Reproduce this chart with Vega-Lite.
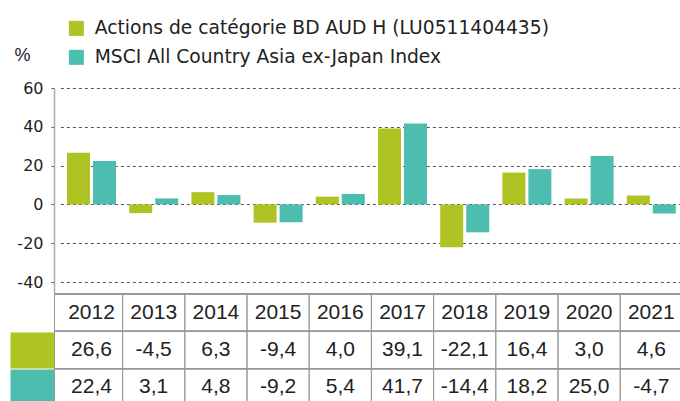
{
  "$schema": "https://vega.github.io/schema/vega-lite/v6.json",
  "padding": {"left": -8, "top": 19, "right": 0, "bottom": 0},
  "config": {
    "view": {"stroke": null},
    "font": "Liberation Sans",
    "locale": {"number": {"decimal": ",", "thousands": " ", "grouping": [3], "currency": ["", " €"], "minus": "-"}},
    "concat": {"spacing": 0}
  },
  "datasets": {
    "perf": [
      {"year": "2012", "series": "Actions de catégorie BD AUD H (LU0511404435)", "value": 26.6},
      {"year": "2013", "series": "Actions de catégorie BD AUD H (LU0511404435)", "value": -4.5},
      {"year": "2014", "series": "Actions de catégorie BD AUD H (LU0511404435)", "value": 6.3},
      {"year": "2015", "series": "Actions de catégorie BD AUD H (LU0511404435)", "value": -9.4},
      {"year": "2016", "series": "Actions de catégorie BD AUD H (LU0511404435)", "value": 4.0},
      {"year": "2017", "series": "Actions de catégorie BD AUD H (LU0511404435)", "value": 39.1},
      {"year": "2018", "series": "Actions de catégorie BD AUD H (LU0511404435)", "value": -22.1},
      {"year": "2019", "series": "Actions de catégorie BD AUD H (LU0511404435)", "value": 16.4},
      {"year": "2020", "series": "Actions de catégorie BD AUD H (LU0511404435)", "value": 3.0},
      {"year": "2021", "series": "Actions de catégorie BD AUD H (LU0511404435)", "value": 4.6},
      {"year": "2012", "series": "MSCI All Country Asia ex-Japan Index", "value": 22.4},
      {"year": "2013", "series": "MSCI All Country Asia ex-Japan Index", "value": 3.1},
      {"year": "2014", "series": "MSCI All Country Asia ex-Japan Index", "value": 4.8},
      {"year": "2015", "series": "MSCI All Country Asia ex-Japan Index", "value": -9.2},
      {"year": "2016", "series": "MSCI All Country Asia ex-Japan Index", "value": 5.4},
      {"year": "2017", "series": "MSCI All Country Asia ex-Japan Index", "value": 41.7},
      {"year": "2018", "series": "MSCI All Country Asia ex-Japan Index", "value": -14.4},
      {"year": "2019", "series": "MSCI All Country Asia ex-Japan Index", "value": 18.2},
      {"year": "2020", "series": "MSCI All Country Asia ex-Japan Index", "value": 25.0},
      {"year": "2021", "series": "MSCI All Country Asia ex-Japan Index", "value": -4.7}
    ]
  },
  "data": {"name": "perf"},
  "vconcat": [
    {
      "width": 626,
      "height": 205,
      "mark": {"type": "bar"},
      "encoding": {
        "x": {"field": "year", "type": "nominal", "scale": {"type": "band", "range": [6.4, 628.4], "paddingInner": 0, "paddingOuter": 0}, "axis": null},
        "xOffset": {"field": "series", "type": "nominal", "scale": {"domain": ["Actions de catégorie BD AUD H (LU0511404435)", "MSCI All Country Asia ex-Japan Index"], "paddingInner": 0.115, "paddingOuter": 0.254}},
        "y": {
          "field": "value", "type": "quantitative", "stack": null,
          "scale": {"domain": [-45.67, 60], "nice": false, "zero": false},
          "axis": {
            "values": [-40, -20, 0, 20, 40, 60],
            "title": "%", "titleAngle": 0, "titleX": -40, "titleY": -33, "titleAlign": "left", "titleBaseline": "middle",
            "titleFontSize": 18, "titleFontWeight": "normal", "titleColor": "#222",
            "labelFont": "DejaVu Sans", "labelFontSize": 16, "labelColor": "#222", "labelPadding": 8,
            "tickSize": 3, "tickColor": "#555", "tickDash": [3, 3],
            "grid": true, "gridColor": "#555", "gridDash": [3, 3], "gridWidth": 1,
            "domainColor": "#aaa", "domainWidth": 1.5
          }
        },
        "color": {
          "field": "series", "type": "nominal",
          "scale": {"domain": ["Actions de catégorie BD AUD H (LU0511404435)", "MSCI All Country Asia ex-Japan Index"], "range": ["#AFC323", "#4DBDAF"]},
          "legend": {
            "orient": "none", "legendX": 13, "legendY": -69, "title": null, "direction": "vertical",
            "symbolType": "square", "symbolSize": 225, "symbolStrokeWidth": 0,
            "labelFont": "DejaVu Sans", "labelFontSize": 18.7, "labelColor": "#222", "labelOffset": 9, "rowPadding": 9, "labelLimit": 700, "padding": 0, "offset": 0
          }
        }
      }
    },
    {
      "width": 626,
      "height": 112,
      "layer": [
        {
          "mark": {"type": "rule", "color": "#999", "strokeWidth": 1},
          "encoding": {
            "y": {
              "field": "series", "type": "nominal", "bandPosition": 0,
              "scale": {"type": "band", "domain": ["Année", "Actions de catégorie BD AUD H (LU0511404435)", "MSCI All Country Asia ex-Japan Index"], "paddingInner": 0, "paddingOuter": 0},
              "axis": {
                "values": ["Actions de catégorie BD AUD H (LU0511404435)", "MSCI All Country Asia ex-Japan Index"],
                "title": null, "labels": false, "grid": false, "domain": true, "domainColor": "#999", "domainWidth": 1,
                "ticks": true, "tickSize": 44, "tickWidth": 36,
                "tickColor": {"condition": {"test": "datum.value === 'MSCI All Country Asia ex-Japan Index'", "value": "#4DBDAF"}, "value": "#AFC323"}
              }
            }
          }
        },
        {
          "mark": {"type": "rule", "color": "#999", "strokeWidth": 1},
          "encoding": {
            "y": {
              "datum": "Année", "type": "nominal", "bandPosition": 0,
              "axis": {
                "values": ["Actions de catégorie BD AUD H (LU0511404435)", "MSCI All Country Asia ex-Japan Index"],
                "title": null, "labels": false, "grid": false, "domain": true, "domainColor": "#999", "domainWidth": 1,
                "ticks": true, "tickSize": 44, "tickWidth": 36,
                "tickColor": {"condition": {"test": "datum.value === 'MSCI All Country Asia ex-Japan Index'", "value": "#4DBDAF"}, "value": "#AFC323"}
              }
            }
          }
        },
        {
          "transform": [{"filter": "datum.year !== '2012'"}],
          "mark": {"type": "rule", "color": "#999", "strokeWidth": 1},
          "encoding": {
            "x": {"field": "year", "type": "nominal", "bandPosition": 0, "scale": {"type": "band", "range": [6.4, 628.4], "paddingInner": 0, "paddingOuter": 0}, "axis": null}
          }
        },
        {
          "transform": [{"filter": "datum.series === 'MSCI All Country Asia ex-Japan Index'"}],
          "mark": {"type": "text", "fontSize": 21, "color": "#222"},
          "encoding": {
            "x": {"field": "year", "type": "nominal", "scale": {"type": "band", "range": [6.4, 628.4], "paddingInner": 0, "paddingOuter": 0}, "axis": null},
            "y": {
              "datum": "Année", "type": "nominal",
              "axis": {
                "values": ["Actions de catégorie BD AUD H (LU0511404435)", "MSCI All Country Asia ex-Japan Index"],
                "title": null, "labels": false, "grid": false, "domain": true, "domainColor": "#999", "domainWidth": 1,
                "ticks": true, "tickSize": 44, "tickWidth": 36,
                "tickColor": {"condition": {"test": "datum.value === 'MSCI All Country Asia ex-Japan Index'", "value": "#4DBDAF"}, "value": "#AFC323"}
              }
            },
            "text": {"field": "year", "type": "nominal"}
          }
        },
        {
          "mark": {"type": "text", "fontSize": 21, "color": "#222"},
          "encoding": {
            "x": {"field": "year", "type": "nominal", "scale": {"type": "band", "range": [6.4, 628.4], "paddingInner": 0, "paddingOuter": 0}, "axis": null},
            "y": {
              "field": "series", "type": "nominal",
              "axis": {
                "values": ["Actions de catégorie BD AUD H (LU0511404435)", "MSCI All Country Asia ex-Japan Index"],
                "title": null, "labels": false, "grid": false, "domain": true, "domainColor": "#999", "domainWidth": 1,
                "ticks": true, "tickSize": 44, "tickWidth": 36,
                "tickColor": {"condition": {"test": "datum.value === 'MSCI All Country Asia ex-Japan Index'", "value": "#4DBDAF"}, "value": "#AFC323"}
              }
            },
            "text": {"field": "value", "type": "quantitative", "format": ".1f"}
          }
        }
      ]
    }
  ]
}
